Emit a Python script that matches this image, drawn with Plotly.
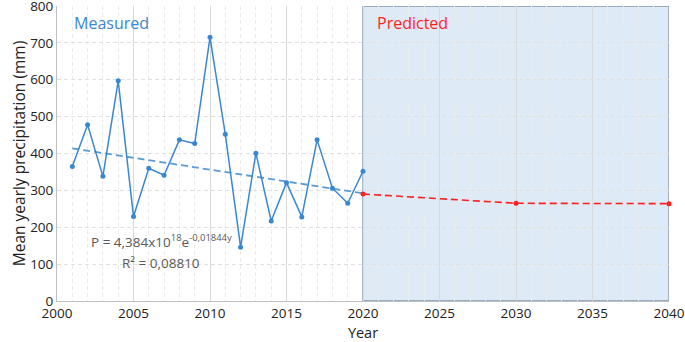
import plotly.graph_objects as go

years = list(range(2001, 2021))
measured = [365, 478, 338, 597, 229, 360, 341, 437, 427, 715,
            452, 146, 401, 217, 321, 228, 437, 306, 265, 352]
trend_years = [2001, 2020]
trend_vals = [414, 292]
pred_years = [2020, 2030, 2040]
pred_vals = [290, 265, 264]
x_ticks = [2000, 2005, 2010, 2015, 2020, 2025, 2030, 2035, 2040]
y_ticks = [0, 100, 200, 300, 400, 500, 600, 700, 800]

FONT = "Open Sans"
BLUE = "#3a87d0"
RED = "#ff1f1f"

fig = go.Figure()
fig.add_shape(type="rect", xref="x", yref="y", x0=2020, x1=2040, y0=0, y1=800,
              fillcolor="#deeaf6", line=dict(color="#8296ae", width=1.3), layer="below")
fig.add_trace(go.Scatter(x=trend_years, y=trend_vals, mode="lines",
                         line=dict(color="#5b9bd5", width=1.8, dash="7px,4px"),
                         hoverinfo="skip"))
fig.add_trace(go.Scatter(x=years, y=measured, mode="lines+markers",
                         line=dict(color=BLUE, width=1.5),
                         marker=dict(color=BLUE, size=5)))
fig.add_trace(go.Scatter(x=pred_years, y=pred_vals, mode="lines+markers",
                         line=dict(color=RED, width=1.6, dash="7px,4px"),
                         marker=dict(color=RED, size=5), cliponaxis=False))

fig.add_annotation(x=2001.0, y=753, xref="x", yref="y", text="Measured", showarrow=False,
                   xanchor="left", yanchor="middle", font=dict(family=FONT, size=16, color=BLUE))
fig.add_annotation(x=2020.8, y=753, xref="x", yref="y", text="Predicted", showarrow=False,
                   xanchor="left", yanchor="middle", font=dict(family=FONT, size=16, color=RED))
fig.add_annotation(x=2006.8, y=162, xref="x", yref="y",
                   text="P = 4,384x10<sup>18</sup>e<sup>-0,01844y</sup>", showarrow=False,
                   xanchor="center", yanchor="middle", font=dict(family=FONT, size=13.5, color="#595959"))
fig.add_annotation(x=2006.8, y=104, xref="x", yref="y",
                   text="R² = 0,08810", showarrow=False,
                   xanchor="center", yanchor="middle", font=dict(family=FONT, size=13.5, color="#595959"))

fig.update_layout(
    width=685, height=342,
    margin=dict(l=57, r=16, t=6, b=41),
    plot_bgcolor="white", paper_bgcolor="white",
    showlegend=False,
    font=dict(family=FONT, size=14, color="#222222"),
)
fig.update_xaxes(range=[2000, 2040], tickvals=x_ticks, ticks="", showline=True,
                 linecolor="#bfbfbf", linewidth=1, showgrid=True, gridcolor="#d9d9d9",
                 gridwidth=1, zeroline=False, automargin=False, ticklabeloverflow="allow",
                 tickfont=dict(size=13.5),
                 minor=dict(dtick=1, tick0=2000, showgrid=True, gridcolor="#ebebeb",
                            griddash="4px,3px"),
                 title=dict(text="Year", font=dict(size=14.5), standoff=10))
fig.update_yaxes(range=[0, 800], tickvals=y_ticks, ticks="", showline=True,
                 linecolor="#bfbfbf", linewidth=1, showgrid=True, gridcolor="#e0e0e0",
                 griddash="4px,3px", zeroline=False, automargin=False, ticklabeloverflow="allow",
                 tickfont=dict(size=13.5),
                 title=dict(text="Mean yearly precipitation (mm)", font=dict(size=15.5), standoff=0))

fig.write_html("out.html", config={"displayModeBar": False},
               post_script="document.body.style.margin='0';document.body.style.overflow='hidden';")
